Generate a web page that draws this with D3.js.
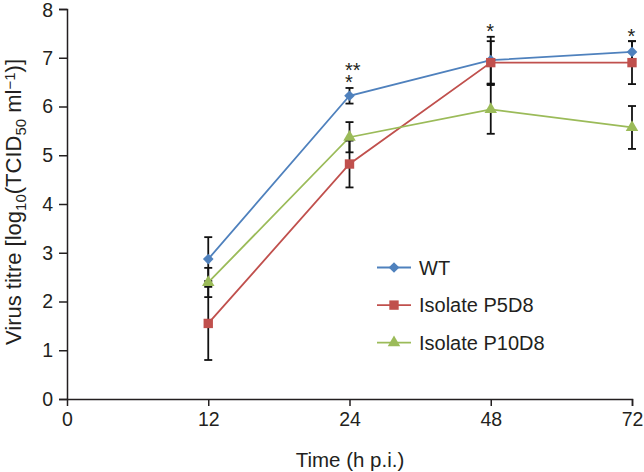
<!DOCTYPE html>
<html>
<head>
<meta charset="utf-8">
<script src="https://cdn.jsdelivr.net/npm/d3@7"></script>
<style>
  html, body { margin: 0; padding: 0; background: #fff; }
  text { font-family: "Liberation Sans", Arial, Helvetica, sans-serif; fill: #231f20; }
</style>
</head>
<body>
<svg id="chart" width="644" height="472"></svg>
<script>
// ---- data ----
const xTicks = [0, 12, 24, 48, 72];
const times = [12, 24, 48, 72];
const yTicks = [0, 1, 2, 3, 4, 5, 6, 7, 8];
const seriesNames = ["WT", "Isolate P5D8", "Isolate P10D8"];
const wtValues = [2.87, 6.22, 6.95, 7.12];
const wtErrors = [0.45, 0.16, 0.48, 0.22];
const p5d8Values = [1.55, 4.82, 6.90, 6.90];
const p5d8Errors = [0.75, 0.48, 0.44, 0.44];
const p10d8Values = [2.39, 5.37, 5.94, 5.57];
const p10d8Errors = [0.30, 0.31, 0.50, 0.44];
const sigTimes = [24, 48, 72];
const sigLabels = [["**", "*"], ["*"], ["*"]];

// ---- layout ----
const svg = d3.select("#chart");
const colors = ["#4f81bd", "#c0504d", "#9bbb59"];
const symbols = [d3.symbolDiamond2, d3.symbolSquare2, d3.symbolTriangle2];
const symSizes = [72, 112, 112];

const x = d3.scalePoint().domain(xTicks).range([67, 632]);
const y = d3.scaleLinear().domain([0, 8]).range([399, 9]);

const series = [
  { name: seriesNames[0], values: wtValues, errors: wtErrors },
  { name: seriesNames[1], values: p5d8Values, errors: p5d8Errors },
  { name: seriesNames[2], values: p10d8Values, errors: p10d8Errors }
].map((s, i) => ({ ...s, color: colors[i], symbol: symbols[i], size: symSizes[i],
  points: times.map((t, j) => ({ t, v: s.values[j], e: s.errors[j] })) }));

// ---- axes ----
const yAxis = svg.append("g").attr("transform", "translate(67,0)")
  .call(d3.axisLeft(y).tickValues(yTicks).tickFormat(d3.format("d")).tickSizeOuter(0).tickSize(8).tickPadding(6));
const xAxis = svg.append("g").attr("transform", "translate(0,399)")
  .call(d3.axisBottom(x).tickValues(xTicks).tickSizeOuter(0).tickSize(7).tickPadding(6));
[yAxis, xAxis].forEach(g => {
  g.select(".domain").attr("stroke", "#231f20").attr("stroke-width", 1.5);
  g.selectAll(".tick line").attr("stroke", "#231f20").attr("stroke-width", 1.5);
  g.selectAll(".tick text").style("font-size", "19.5px").attr("fill", "#231f20");
});
xAxis.selectAll(".tick").filter(d => d === 0).select("line").remove();
yAxis.selectAll(".tick").filter(d => d === 8).select("text").attr("dy", "0.4em");

// x title
svg.append("text").attr("x", 350).attr("y", 467).attr("text-anchor", "middle")
  .style("font-size", "20.5px").text("Time (h p.i.)");

// y title with sub/superscripts
const yt = svg.append("text").attr("transform", "translate(21,202) rotate(-90)")
  .attr("text-anchor", "middle").style("font-size", "22px");
yt.append("tspan").text("Virus titre [log");
yt.append("tspan").attr("dy", 5).style("font-size", "15px").text("10");
yt.append("tspan").attr("dy", -5).text("(TCID");
yt.append("tspan").attr("dy", 5).style("font-size", "15px").text("50");
yt.append("tspan").attr("dy", -5).text(" ml");
yt.append("tspan").attr("dy", -6).style("font-size", "15px").text("\u22121");
yt.append("tspan").attr("dy", 6).text(")]");

// ---- lines ----
const line = d3.line().x(d => x(d.t)).y(d => y(d.v));
svg.append("g").selectAll("path").data(series).join("path")
  .attr("d", s => line(s.points)).attr("fill", "none")
  .attr("stroke", s => s.color).attr("stroke-width", 1.8);

// ---- error bars ----
const eb = svg.append("g").attr("stroke", "#111").attr("stroke-width", 1.8);
series.forEach(s => {
  s.points.forEach(p => {
    const cx = x(p.t), y1 = y(p.v + p.e), y2 = y(p.v - p.e);
    eb.append("line").attr("x1", cx).attr("x2", cx).attr("y1", y1).attr("y2", y2);
    eb.append("line").attr("x1", cx - 4).attr("x2", cx + 4).attr("y1", y1).attr("y2", y1);
    eb.append("line").attr("x1", cx - 4).attr("x2", cx + 4).attr("y1", y2).attr("y2", y2);
  });
});

// ---- markers ----
series.forEach(s => {
  svg.append("g").selectAll("path").data(s.points).join("path")
    .attr("transform", p => `translate(${x(p.t)},${y(p.v)})`)
    .attr("d", d3.symbol().type(s.symbol).size(s.size))
    .attr("fill", s.color);
});

// ---- significance asterisks (one text per time point, rows as tspans) ----
sigTimes.forEach((t, i) => {
  const j = times.indexOf(t);
  const top = d3.max(series, s => s.values[j] + s.errors[j]);
  const rows = sigLabels[i];
  const baseY = y(top) - 10 + 11.5 - (rows.length - 1) * 12;
  const txt = svg.append("text").attr("text-anchor", "start").style("font-size", "20px");
  rows.forEach((r, k) => {
    txt.append("tspan").attr("x", x(t) - 4.5).attr("y", baseY + k * 12).text(r);
  });
});

// ---- legend ----
const lg = svg.append("g");
series.forEach((s, i) => {
  const ly = 267.5 + i * 37.6;
  lg.append("line").attr("x1", 377).attr("x2", 411).attr("y1", ly).attr("y2", ly)
    .attr("stroke", s.color).attr("stroke-width", 1.8);
  lg.append("path").attr("transform", `translate(394,${ly})`)
    .attr("d", d3.symbol().type(s.symbol).size(s.size)).attr("fill", s.color);
  lg.append("text").attr("x", 419).attr("y", ly + 7).style("font-size", "20px").text(s.name);
});
</script>
</body>
</html>
